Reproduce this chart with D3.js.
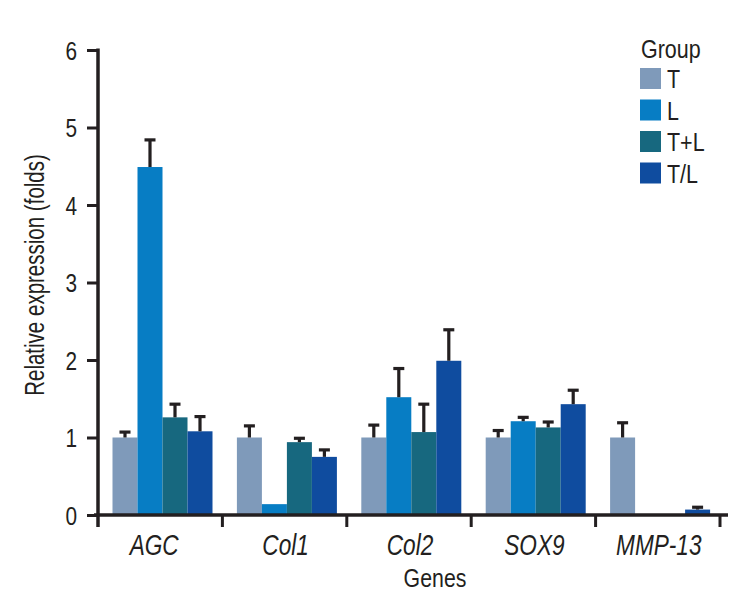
<!DOCTYPE html>
<html>
<head>
<meta charset="utf-8">
<script src="https://cdn.jsdelivr.net/npm/d3@7"></script>
<style>
  body { margin: 0; background: #fff; }
  svg text { font-family: "Liberation Sans", Arial, sans-serif; fill: #231f20; }
</style>
</head>
<body>
<div class="chart"></div>
<script>
const width = 746
const height = 599

// data
const genes = ['AGC', 'Col1', 'Col2', 'SOX9', 'MMP-13']
const groups = ['T', 'L', 'T+L', 'T/L']
const colors = ['#7f9aba', '#077dc4', '#17687f', '#0f4c9f']
const valT   = [1.00, 1.00, 1.00, 1.00, 1.00]
const valL   = [4.49, 0.14, 1.52, 1.21, 0]
const valTL  = [1.26, 0.94, 1.07, 1.13, 0]
const valTsL = [1.08, 0.75, 1.99, 1.43, 0.07]
const errT   = [0.07, 0.15, 0.16, 0.09, 0.19]
const errL   = [0.35, 0, 0.37, 0.05, 0]
const errTL  = [0.17, 0.05, 0.36, 0.07, 0]
const errTsL = [0.19, 0.09, 0.40, 0.18, 0.03]
const yTicks = [0, 1, 2, 3, 4, 5, 6]

const values = [valT, valL, valTL, valTsL]
const errors = [errT, errL, errTL, errTsL]

const mLeft = 98, mRight = 720, mTop = 50, mBottom = 515
const sx = 0.8 // narrow the type, the original uses a condensed face

const svg = d3.select('.chart').append('svg')
    .attr('width', width)
    .attr('height', height)
    .attr('viewBox', [0, 0, width, height])

const x0 = d3.scaleBand()
    .domain(genes)
    .range([mLeft, mRight])

const x1 = d3.scaleBand()
    .domain(groups)
    .range([14.5, 114.5])

const y = d3.scaleLinear()
    .domain([0, 6])
    .range([mBottom, mTop])

let rows = []
genes.forEach((g, i) => {
    groups.forEach((k, j) => {
        rows.push({gene: g, group: k, idx: j, v: values[j][i], e: errors[j][i]})
    })
})

// bars
svg.append('g')
    .selectAll('rect')
    .data(rows)
    .join('rect')
    .attr('x', d => x0(d.gene) + x1(d.group))
    .attr('width', x1.bandwidth())
    .attr('y', d => y(d.v))
    .attr('height', d => y(0) - y(d.v))
    .attr('fill', d => colors[d.idx])

// error bars (upper only)
const eb = svg.append('g')
    .selectAll('g')
    .data(rows.filter(d => d.e > 0))
    .join('g')
    .attr('stroke', '#231f20')
    .attr('stroke-width', 3.2)

eb.append('line')
    .attr('x1', d => x0(d.gene) + x1(d.group) + x1.bandwidth() / 2)
    .attr('x2', d => x0(d.gene) + x1(d.group) + x1.bandwidth() / 2)
    .attr('y1', d => y(d.v))
    .attr('y2', d => y(d.v + d.e))

eb.append('line')
    .attr('x1', d => x0(d.gene) + x1(d.group) + x1.bandwidth() / 2 - 5.5)
    .attr('x2', d => x0(d.gene) + x1(d.group) + x1.bandwidth() / 2 + 5.5)
    .attr('y1', d => y(d.v + d.e))
    .attr('y2', d => y(d.v + d.e))

// y axis
const yAxis = svg.append('g')
    .attr('transform', `translate(${mLeft},0)`)
    .call(d3.axisLeft(y).tickValues(yTicks).tickSize(11).tickFormat(d3.format('d')))
yAxis.select('.domain').remove()
yAxis.selectAll('line').attr('stroke', '#231f20').attr('stroke-width', 3)
yAxis.selectAll('.tick text')
    .attr('x', null).attr('dy', null)
    .attr('transform', `translate(-21,9) scale(${sx},1)`)
    .style('font-size', '26px')
yAxis.append('line')
    .attr('y1', mTop - 1.5).attr('y2', mBottom + 12)
    .attr('stroke', '#231f20').attr('stroke-width', 3.5)

// x axis
const xAxis = svg.append('g')
    .attr('transform', `translate(0,${mBottom})`)
xAxis.append('line')
    .attr('x1', mLeft - 4).attr('x2', mRight + 8)
    .attr('stroke', '#231f20').attr('stroke-width', 3.5)
xAxis.selectAll('.tk')
    .data(genes.slice(1).concat(['end']))
    .join('line')
    .attr('class', 'tk')
    .attr('x1', (d, i) => i < genes.length - 1 ? x0(d) : mRight)
    .attr('x2', (d, i) => i < genes.length - 1 ? x0(d) : mRight)
    .attr('y1', 0).attr('y2', 12)
    .attr('stroke', '#231f20').attr('stroke-width', 3)
xAxis.selectAll('.lbl')
    .data(genes)
    .join('text')
    .attr('class', 'lbl')
    .attr('transform', (d, i) => `translate(${x0(d) + x0.bandwidth() / 2 + (i == 0 ? -6 : 1)},40) scale(0.78,1)`)
    .attr('text-anchor', 'middle')
    .style('font-size', '29px')
    .style('font-style', 'italic')
    .text(d => d)

svg.append('text')
    .attr('transform', `translate(435,587) scale(0.82,1)`)
    .attr('text-anchor', 'middle')
    .style('font-size', '26px')
    .text('Genes')

svg.append('text')
    .attr('transform', 'translate(44,275) rotate(-90) scale(0.76,1)')
    .attr('text-anchor', 'middle')
    .style('font-size', '27px')
    .text('Relative expression (folds)')

// legend
const legend = svg.append('g')
legend.append('text')
    .attr('transform', `translate(641,58) scale(0.86,1)`)
    .style('font-size', '25px')
    .text('Group')
const li = legend.selectAll('g')
    .data(groups)
    .join('g')
    .attr('transform', (d, i) => `translate(640,${68 + i * 31.5})`)
li.append('rect')
    .attr('width', 21).attr('height', 21)
    .attr('fill', (d, i) => colors[i])
li.append('text')
    .attr('transform', `translate(27,20) scale(0.86,1)`)
    .style('font-size', '25px')
    .text(d => d)
</script>
</body>
</html>
